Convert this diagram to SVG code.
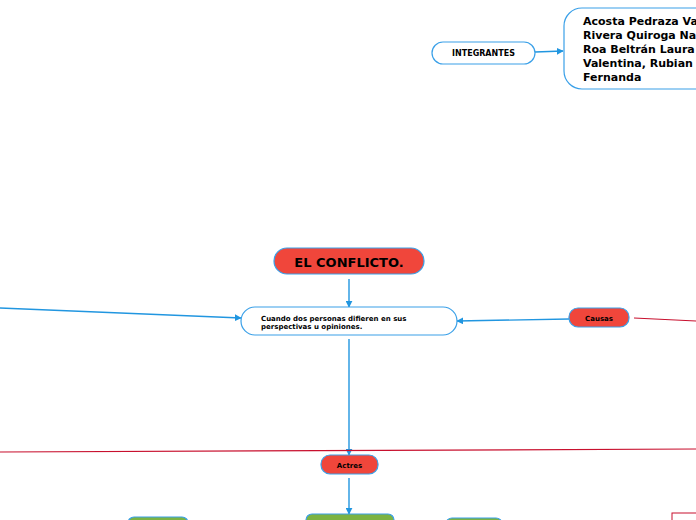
<svg xmlns="http://www.w3.org/2000/svg" width="696" height="520" viewBox="0 0 696 520">
<style>
.node{stroke:#3aa0e8;stroke-width:1.2}
.red{fill:#f0463b}
.white{fill:#ffffff}
.green{fill:#7cb342}
.conn{stroke:#2196e0;stroke-width:1.4;fill:none}
.rline{stroke:#c8102e;stroke-width:1.2;fill:none}
text{font-family:"DejaVu Sans",Verdana,sans-serif;font-weight:bold;fill:#000}
</style>
<defs>
<marker id="ah" viewBox="0 0 10 10" refX="9" refY="5" markerWidth="7" markerHeight="7" markerUnits="userSpaceOnUse" orient="auto">
<path d="M0,0 L10,5 L0,10 z" fill="#2196e0"/>
</marker>
</defs>
<rect width="696" height="520" fill="#ffffff"/>
<g id="connectors">
<path class="conn" d="M535,52 L563,51" marker-end="url(#ah)"/>
<path class="conn" d="M349,279 L349,307" marker-end="url(#ah)"/>
<path class="conn" d="M0,308 L241,318" marker-end="url(#ah)"/>
<path class="conn" d="M569,319 L457,321" marker-end="url(#ah)"/>
<path class="conn" d="M349,339 L349,455" marker-end="url(#ah)"/>
<path class="conn" d="M349,478 L349,514" marker-end="url(#ah)"/>
<path class="rline" d="M634,318 L696,321"/>
<path class="rline" d="M0,452 L696,449"/>
</g>
<g id="integrantes">
<rect class="node white" x="432" y="42" width="103" height="22" rx="11"/>
<text x="483.5" y="56" font-size="8" text-anchor="middle">INTEGRANTES</text>
</g>
<g id="members">
<rect class="node white" x="564" y="8" width="160" height="81" rx="18"/>
<text font-size="11" x="583"><tspan x="583" y="25">Acosta Pedraza Va</tspan><tspan x="583" y="39">Rivera Quiroga Na</tspan><tspan x="583" y="53">Roa Beltrán Laura</tspan><tspan x="583" y="67">Valentina, Rubian</tspan><tspan x="583" y="81">Fernanda</tspan></text>
</g>
<g id="conflicto">
<rect class="node red" x="274" y="248" width="150" height="26" rx="13"/>
<text x="349" y="266.5" font-size="13" text-anchor="middle">EL CONFLICTO.</text>
</g>
<g id="definicion">
<rect class="node white" x="241" y="307" width="216" height="28" rx="14"/>
<text font-size="7"><tspan x="261" y="320.5">Cuando dos personas difieren en sus</tspan><tspan x="261" y="328.5">perspectivas u opiniones.</tspan></text>
</g>
<g id="causas">
<rect class="node red" x="569" y="308" width="60" height="19" rx="9"/>
<text x="599" y="320.5" font-size="7" text-anchor="middle">Causas</text>
</g>
<g id="actres">
<rect class="node red" x="321" y="455" width="57" height="19" rx="9"/>
<text x="349.5" y="467.5" font-size="7" text-anchor="middle">Actres</text>
</g>
<g id="bottom-left">
<rect class="node green" x="128" y="517" width="60" height="20" rx="6"/>
</g>
<g id="bottom-mid">
<rect class="node green" x="306" y="514" width="88" height="20" rx="6"/>
</g>
<g id="bottom-right">
<rect class="node green" x="446" y="518" width="56" height="20" rx="6"/>
</g>
<g id="bottom-red">
<rect x="672" y="513" width="40" height="20" fill="none" stroke="#c8102e" stroke-width="1"/>
</g>
</svg>
